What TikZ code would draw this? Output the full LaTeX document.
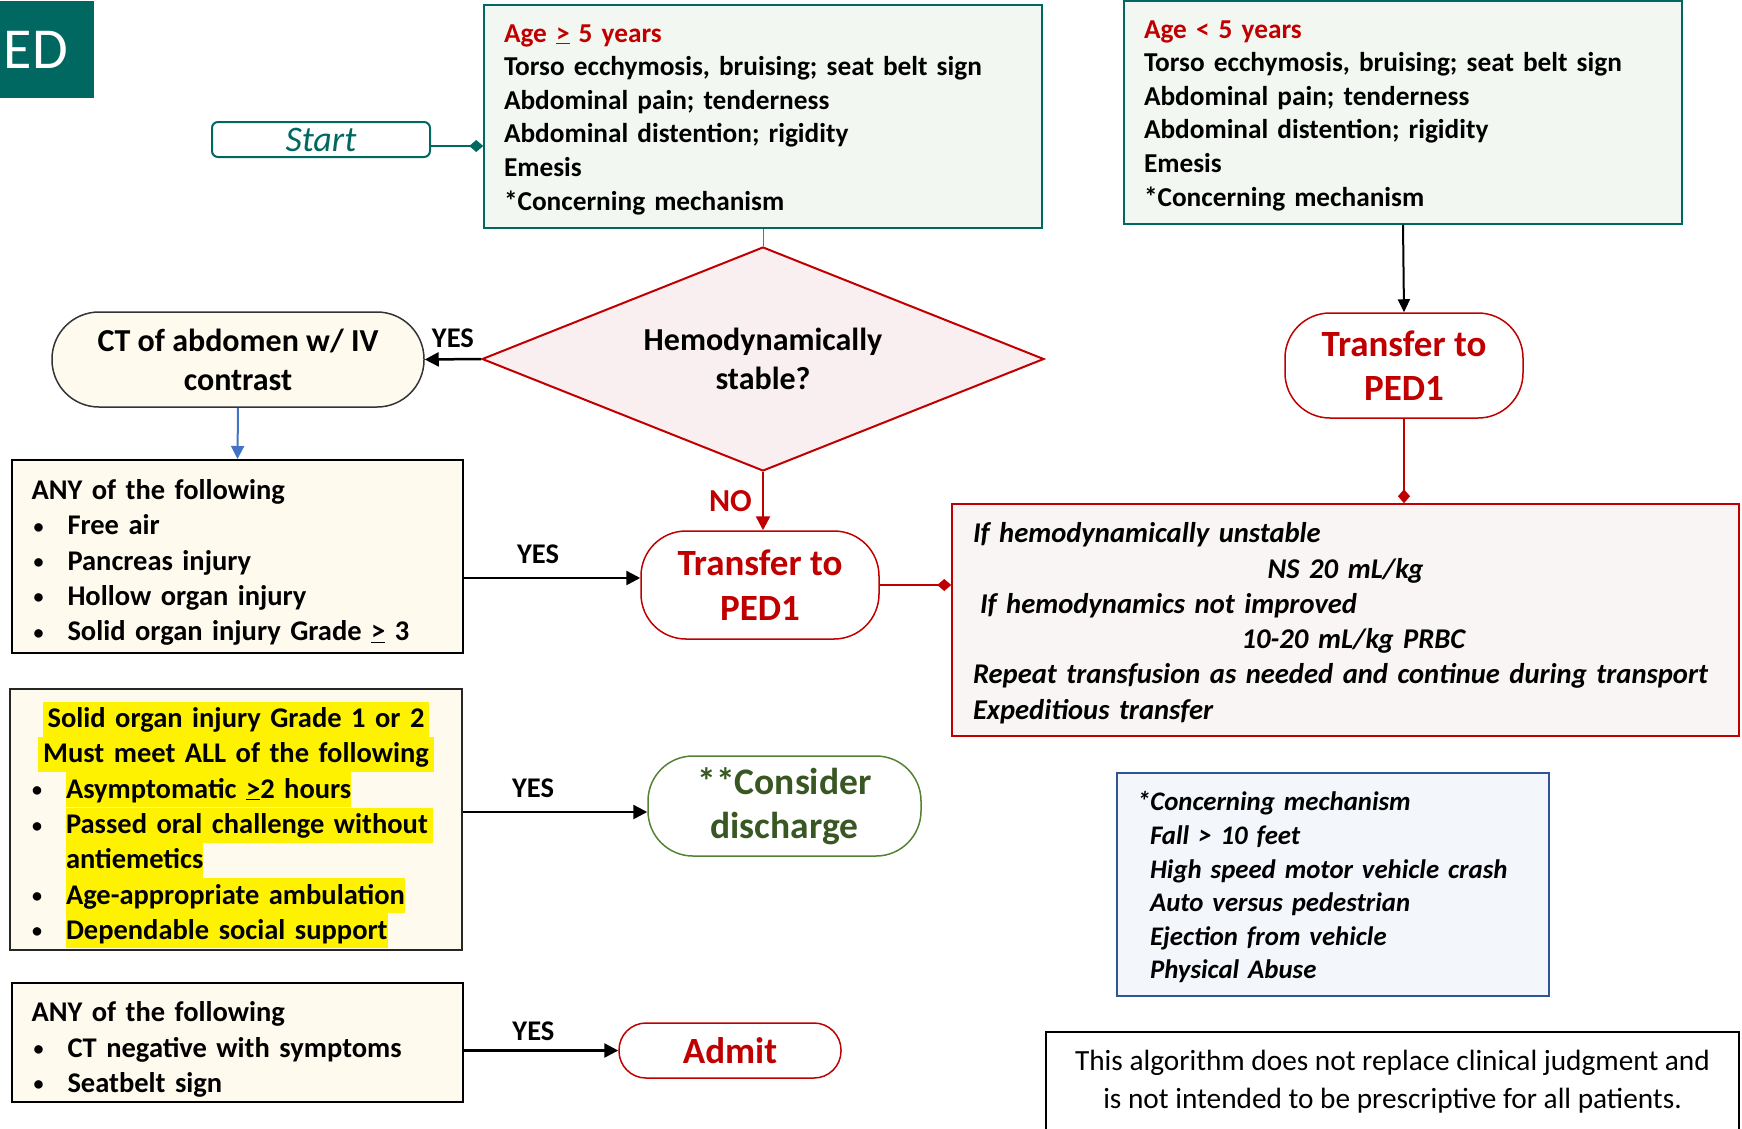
\documentclass[tikz,border=0pt]{standalone}
\usepackage{fontspec}
\setmainfont{Carlito}
\usetikzlibrary{shapes.geometric,arrows.meta,calc}
\definecolor{teal1}{RGB}{0,104,96}
\definecolor{red1}{RGB}{192,0,0}
\definecolor{greenfill}{RGB}{242,247,242}
\definecolor{pinkfill}{RGB}{249,238,240}
\definecolor{redfill}{RGB}{249,245,245}
\definecolor{cream}{RGB}{255,250,238}
\definecolor{dgreen}{RGB}{56,87,35}
\definecolor{lgreen}{RGB}{84,130,53}
\definecolor{blue1}{RGB}{68,114,196}
\definecolor{blue2}{RGB}{47,85,151}
\definecolor{bluefill}{RGB}{243,246,251}
\newcommand{\setfs}[2]{\fontsize{#1}{#2}\selectfont}
\newcommand{\yhl}[1]{{\setlength{\fboxsep}{0pt}\colorbox{yellow}{\rule[-9pt]{0pt}{35pt}#1}}}
\newcommand{\bulitem}{\hspace*{2pt}\makebox[34pt][l]{\raisebox{1.5pt}{\setfs{20}{20}•}}}
\newcommand{\geu}{\underline{>}}
\newcommand{\tfix}[1]{\rule{0pt}{#1pt}}
\tikzset{
  agebox/.style={draw=teal1, line width=1.5pt, fill=greenfill, minimum width=558pt,
    minimum height=223pt, text width=518pt, align=left, inner xsep=19pt, inner ysep=0pt,
    font=\setfs{27.3}{33.6}\bfseries},
  creambox/.style={draw=black, line width=2pt, fill=cream, minimum width=451pt,
    text width=412pt, align=left, inner xsep=19pt, inner ysep=0pt, font=\setfs{28.5}{35.3}\bfseries},
  terminal/.style={line width=1.5pt, inner sep=0pt, align=center, font=\setfs{37}{44.5}\bfseries},
  yeslabel/.style={font=\setfs{28.5}{28.5}\bfseries, text=black, inner sep=2pt},
  arr/.style={line width=2.5pt, -{Triangle[length=14pt,width=14pt]}},
  dtip/.style={line width=2pt, -{Diamond[length=14pt,width=12pt]}}
}
\begin{document}
\begin{tikzpicture}[x=1pt,y=-1pt]
\useasboundingbox (0,0) rectangle (1742,1128);

\node (ed) [fill=teal1, minimum width=94pt, minimum height=97pt, inner sep=0pt, anchor=north west] at (0,1) {};
\node (edtext) [text=white, inner sep=0pt, font=\setfs{58}{58}] at (36,50) {ED};

\node (start) [draw=teal1, line width=2pt, rounded corners=6pt, minimum width=218pt, minimum height=35pt,
  inner sep=0pt, text=teal1, font=\setfs{36}{36}\itshape] at (321,139.5) {Start};

\node (age1) [agebox] at (763,116.5) {%
\tfix{24}{\color{red1}Age \geu{} 5 years}\\
Torso ecchymosis, bruising;\ seat belt sign\\
Abdominal pain; tenderness\\
Abdominal distention;\ rigidity\\
Emesis\\
{*}Concerning mechanism};

\node (age2) [agebox] at (1403,112.5) {%
\tfix{24}{\color{red1}Age < 5 years}\\
Torso ecchymosis, bruising;\ seat belt sign\\
Abdominal pain; tenderness\\
Abdominal distention;\ rigidity\\
Emesis\\
{*}Concerning mechanism};

\node (dia) [diamond, draw=red1, line width=2pt, fill=pinkfill, aspect=2.5, minimum width=562pt,
  minimum height=224pt, inner sep=0pt, align=center, font=\setfs{32}{39}\bfseries] at (763,359) {Hemodynamically\\stable?};

\node (ct) [draw=black!80, line width=1.5pt, fill=cream, rounded corners=47pt, minimum width=372pt,
  minimum height=95pt, inner sep=0pt, align=center, font=\setfs{32}{39}\bfseries] at (238,359.5) {CT of abdomen w/ IV\\contrast};

\node (any1) [creambox, minimum height=193pt] at (237.5,556.5) {%
\tfix{32}ANY of the following\\
\bulitem Free air\\
\bulitem Pancreas injury\\
\bulitem Hollow organ injury\\
\bulitem Solid organ injury Grade \geu{} 3};

\node (tr1) [terminal, draw=red1, fill=white, rounded corners=45pt, minimum width=238pt, minimum height=108pt,
  text=red1] at (760,585) {Transfer to\\PED1};

\node (tr2) [terminal, draw=red1, fill=white, rounded corners=45pt, minimum width=238pt, minimum height=105pt,
  text=red1] at (1404,365.5) {Transfer to\\PED1};

\node (rb) [draw=red1, line width=1.5pt, fill=redfill, minimum width=787pt, minimum height=232pt,
  text width=745pt, inner xsep=21pt, inner ysep=0pt, align=left, font=\setfs{28.6}{35.3}\bfseries\itshape] at (1345.5,620) {%
\makebox[\linewidth][l]{\tfix{26.5}If hemodynamically unstable}\\
\makebox[\linewidth]{NS 20 mL/kg}\\
\makebox[\linewidth][l]{\hspace*{7pt}If hemodynamics not improved}\\
\makebox[\linewidth]{\hspace*{16pt}10-20 mL/kg PRBC}\\
\makebox[\linewidth][l]{Repeat transfusion as needed and continue during transport}\\
\makebox[\linewidth][l]{Expeditious transfer}};

\node (yb) [creambox, draw=black!85, minimum width=452pt, minimum height=261pt] at (236,819.5) {%
\makebox[\linewidth]{\tfix{37}\yhl{\,Solid organ injury Grade 1 or 2\,}}\\
\makebox[\linewidth]{\yhl{\,Must meet ALL of the following\,}}\\
\bulitem\yhl{Asymptomatic \geu2 hours}\\
\bulitem\yhl{Passed oral challenge without\,}\\
\hspace*{36pt}\yhl{antiemetics}\\
\bulitem\yhl{Age-appropriate ambulation}\\
\bulitem\yhl{Dependable social support}};

\node (cd) [terminal, draw=lgreen, fill=white, rounded corners=45pt, minimum width=273pt, minimum height=100pt,
  text=dgreen, font=\setfs{37.5}{44.5}\bfseries] at (784.5,806) {**Consider\\discharge};

\node (any2) [creambox, minimum height=119pt] at (237.5,1042.5) {%
\tfix{34}ANY of the following\\
\bulitem CT negative with symptoms\\
\bulitem Seatbelt sign};

\node (admit) [terminal, draw=red1, fill=white, rounded corners=27pt, minimum width=222pt, minimum height=55pt,
  text=red1] at (730,1050.5) {Admit};

\node (cm) [draw=blue2, line width=1.5pt, fill=bluefill, minimum width=432pt, minimum height=223pt,
  text width=392pt, inner xsep=20pt, inner ysep=0pt, align=left, font=\setfs{26.8}{33.6}\bfseries\itshape] at (1333,884.5) {%
\tfix{25}*Concerning mechanism\\
\hspace*{13pt}Fall > 10 feet\\
\hspace*{13pt}High speed motor vehicle crash\\
\hspace*{13pt}Auto versus pedestrian\\
\hspace*{13pt}Ejection from vehicle\\
\hspace*{13pt}Physical Abuse};

\node (disc) [draw=black, line width=1.5pt, fill=white, minimum width=693pt, minimum height=100pt, anchor=north,
  align=center, font=\setfs{29.3}{38}] at (1392.5,1031) {This algorithm does not replace clinical judgment and\\is not intended to be prescriptive for all patients.};

% connectors
\draw[teal1, dtip] ($(start.east)+(0,6.5)$) -- ($(start.east -| age1.west)+(0,6.5)$);
\draw[blue1, line width=1pt] (age1.south) -- (dia.north);
\draw[black, arr] (dia.west) -- node[yeslabel, above=8pt] {YES} (ct.east);
\draw[blue1, line width=2pt, -{Triangle[length=13pt,width=13pt]}] (ct.south) -- (any1.north);
\draw[red1, arr] (dia.south) -- node[left=10pt, inner sep=0pt, text=red1, font=\setfs{32}{32}\bfseries] {NO} (dia.south |- tr1.north);
\draw[black, arr] ($(any1.east |- tr1.west)+(0,-7)$) -- node[yeslabel, above=11pt, pos=0.42] {YES} ($(tr1.west)+(0,-7)$);
\draw[red1, dtip] (tr1.east) -- (tr1.east -| rb.west);
\draw[black, line width=2pt, -{Triangle[length=13pt,width=12pt]}] (age2.south) -- (tr2.north);
\draw[red1, dtip] (tr2.south) -- (tr2.south |- rb.north);
\draw[black, arr] ($(yb.east |- cd.west)+(0,6)$) -- node[yeslabel, above=11pt, pos=0.38] {YES} ($(cd.west)+(0,6)$);
\draw[black, arr] (any2.east |- admit.west) -- node[yeslabel, above=7pt, pos=0.45] {YES} (admit.west);
\end{tikzpicture}
\end{document}
